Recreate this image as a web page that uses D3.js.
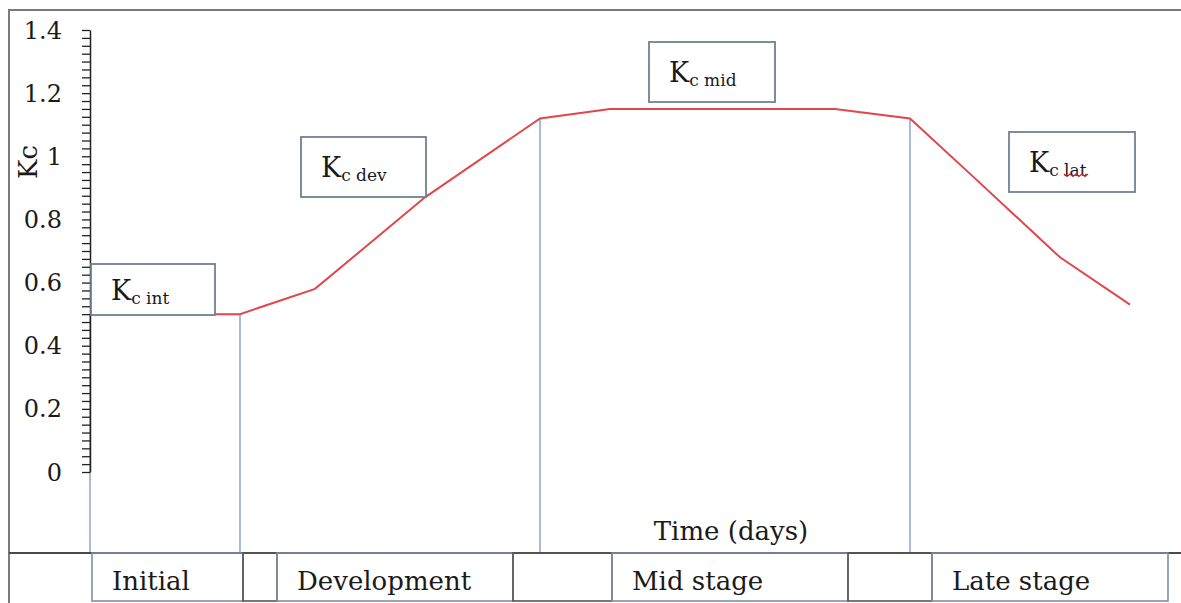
<!DOCTYPE html>
<html lang="en">
<head>
  <meta charset="UTF-8">
  <title>Kc curve</title>
  <style>
    html, body { margin: 0; padding: 0; background: #fff; }
    svg { display: block; }
    text { font-family: "DejaVu Serif", "Liberation Serif", serif; fill: #1a1a1a; }
  </style>
</head>
<body>
  <script src="https://cdn.jsdelivr.net/npm/d3@7"></script>
  <script>
    // crop coefficient curve (days since planting, Kc)
    const days = [0, 30, 45, 67, 90, 104, 149, 164, 177, 194, 208];
    const kc   = [0.5, 0.5, 0.58, 0.87, 1.12, 1.15, 1.15, 1.12, 0.93, 0.68, 0.53];
    const yTicks = [0, 0.2, 0.4, 0.6, 0.8, 1, 1.2, 1.4];
    const stageNames = ['Initial', 'Development', 'Mid stage', 'Late stage'];
    const stageStart = [0, 30, 90, 164];
    const boxNames = ['int', 'dev', 'mid', 'lat'];

    const W = 1181, H = 603;
    const svg = d3.select('body').append('svg').attr('width', W).attr('height', H);

    const x = d3.scaleLinear().domain([0, 208]).range([90, 1130]);
    const y = d3.scaleLinear().domain([0, 1.4]).range([472, 30]);
    const tableTop = 553;

    // outer frame (top + left)
    svg.append('path').attr('d', `M9,${H} V10 H${W}`)
      .attr('fill', 'none').attr('stroke', '#7b7b7b').attr('stroke-width', 2);

    // stage boundary lines
    svg.selectAll('.stage').data(stageStart).join('line')
      .attr('x1', d => x(d)).attr('x2', d => x(d))
      .attr('y1', d => d === 0 ? y(0.5) : y(kc[days.indexOf(d)]))
      .attr('y2', tableTop)
      .attr('stroke', '#8aa6d2').attr('stroke-width', 1.5);

    // Kc curve
    const line = d3.line().x(d => x(d[0])).y(d => y(d[1]));
    svg.append('path').datum(days.map((d, i) => [d, kc[i]]))
      .attr('d', line).attr('fill', 'none')
      .attr('stroke', '#e0474c').attr('stroke-width', 2);

    // y axis with minor ticks on the left
    const minor = d3.range(0, 1.4001, 0.025);
    svg.append('g').attr('transform', 'translate(90,0)')
      .call(d3.axisLeft(y).tickValues(minor).tickSize(8).tickFormat('').tickSizeOuter(0))
      .call(g => g.select('.domain').attr('stroke', '#222').attr('stroke-width', 1.5))
      .call(g => g.selectAll('.tick line').attr('stroke', '#222').attr('stroke-width', 1.3));
    svg.append('g').selectAll('text').data(yTicks).join('text')
      .attr('x', 62).attr('y', d => y(d)).attr('dy', '0.36em')
      .attr('text-anchor', 'end').style('font-size', '24px')
      .text(d => d3.format('~g')(d));

    svg.append('text').attr('transform', 'translate(37,162) rotate(-90)')
      .attr('text-anchor', 'middle').style('font-size', '26px').text('Kc');

    svg.append('text').attr('x', 731).attr('y', 540)
      .attr('text-anchor', 'middle').style('font-size', '26px').text('Time (days)');

    // Kc label boxes
    const boxes = [
      { x: 91, y: 264, w: 124, h: 51 },
      { x: 301, y: 137, w: 125, h: 60 },
      { x: 649, y: 42, w: 126, h: 60 },
      { x: 1009, y: 132, w: 126, h: 60 }
    ];
    const bx = svg.selectAll('.kbox').data(boxes).join('g').attr('class', 'kbox');
    bx.append('rect').attr('x', d => d.x).attr('y', d => d.y)
      .attr('width', d => d.w).attr('height', d => d.h)
      .attr('fill', '#fff').attr('stroke', '#6f8196').attr('stroke-width', 1.8);
    const bt = bx.append('text').attr('x', d => d.x + 20).attr('y', d => d.y + d.h / 2 + 10);
    bt.append('tspan').style('font-size', '27px').text('K');
    bt.append('tspan').style('font-size', '17px').attr('dy', 4).text('c');
    bt.append('tspan').style('font-size', '17px').text((d, i) => '\u00a0' + boxNames[i]);

    // spell-check squiggle under "lat"
    const sq = d3.range(0, 9).map(i => [1064 + i * 3, 175 + (i % 2 ? 1.5 : -1)]);
    svg.append('path').attr('d', d3.line()(sq)).attr('fill', 'none')
      .attr('stroke', '#d02020').attr('stroke-width', 1.3);

    // bottom stage table
    svg.append('line').attr('x1', 9).attr('x2', W).attr('y1', tableTop).attr('y2', tableTop)
      .attr('stroke', '#4a4a4a').attr('stroke-width', 2);
    const cells = [
      { x0: 92, x1: 243, label: 0 }, { x0: 243, x1: 277 },
      { x0: 277, x1: 513, label: 1 }, { x0: 513, x1: 612 },
      { x0: 612, x1: 848, label: 2 }, { x0: 848, x1: 932 },
      { x0: 932, x1: 1168, label: 3 }
    ];
    svg.selectAll('.cell').data(cells).join('rect')
      .attr('x', d => d.x0).attr('y', tableTop).attr('width', d => d.x1 - d.x0).attr('height', 48)
      .attr('fill', 'none').attr('stroke', d => d.label === undefined ? '#555' : '#7d8fa8')
      .attr('stroke-width', 1.6);
    svg.selectAll('.cellText').data(cells.filter(d => d.label !== undefined)).join('text')
      .attr('x', d => d.x0 + 20).attr('y', 590).style('font-size', '26px')
      .text(d => stageNames[d.label]);
  </script>
</body>
</html>
